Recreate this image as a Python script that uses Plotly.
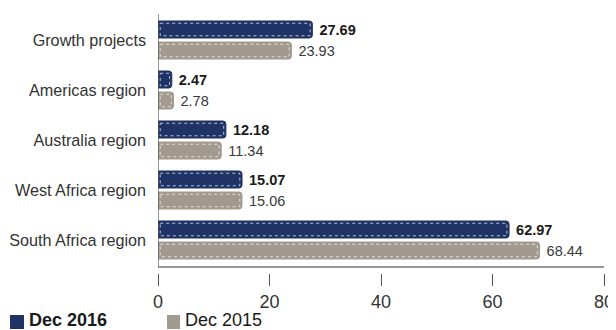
import plotly.graph_objects as go

# Data
categories = [
    "Growth projects",
    "Americas region",
    "Australia region",
    "West Africa region",
    "South Africa region",
]
dec_2016 = [27.69, 2.47, 12.18, 15.07, 62.97]
dec_2015 = [23.93, 2.78, 11.34, 15.06, 68.44]
series_names = ["Dec 2016", "Dec 2015"]
x_ticks = [0, 20, 40, 60, 80]

NAVY = "#1f3366"
TAUPE = "#a39a8f"
FONT = "Liberation Sans, Arial, sans-serif"

positions = list(range(len(categories)))
BAR_W = 0.34
GAP = 0.04


def stitch_path(values, offset):
    """White dotted inner outline for each bar (inset a couple of pixels)."""
    xs, ys = [], []
    x_in, y_in = 0.4, 0.045
    for pos, val in zip(positions, values):
        top = pos + offset + y_in
        bot = pos + offset + BAR_W - y_in
        right = val - x_in
        xs += [x_in, right, right, x_in, x_in, None]
        ys += [top, top, bot, bot, top, None]
    return xs, ys


fig = go.Figure()
series = [
    (series_names[0], dec_2016, NAVY, -GAP - BAR_W, "&nbsp;<b>%{x:.2f}</b>", "#1a1a1a"),
    (series_names[1], dec_2015, TAUPE, GAP, "&nbsp;%{x:.2f}", "#3a3a3a"),
]
for name, values, color, offset, tmpl, txt_color in series:
    fig.add_trace(
        go.Bar(
            x=values,
            y=positions,
            orientation="h",
            name=name,
            width=BAR_W,
            offset=offset,
            marker={"color": color, "line": {"color": color, "width": 1}, "cornerradius": 3},
            texttemplate=tmpl,
            textposition="outside",
            textfont={"size": 14.5, "color": txt_color, "family": FONT},
            cliponaxis=False,
            hoverinfo="skip",
            showlegend=False,
        )
    )
    sx, sy = stitch_path(values, offset)
    fig.add_trace(
        go.Scatter(
            x=sx,
            y=sy,
            mode="lines",
            line={"color": "rgba(255,255,255,0.85)", "width": 0.8, "dash": "dot"},
            showlegend=False,
            hoverinfo="skip",
        )
    )

# axis lines that stop short of the tick row
fig.add_shape(type="line", xref="x", yref="y", x0=0, x1=0, y0=-0.52, y1=4.54,
              line={"color": "#555555", "width": 1.2})
fig.add_shape(type="line", xref="x", yref="y", x0=0, x1=80, y0=4.54, y1=4.54,
              line={"color": "#333333", "width": 1.2})

# hand-placed legend below the chart (Plotly's own legend would push the margins)
legend_items = [
    (f"<b>{series_names[0]}</b>", NAVY, -0.3318, -0.3004, -0.2937),
    (series_names[1], TAUPE, 0.0202, 0.0493, 0.0561),
]
for label, color, sq0, sq1, tx in legend_items:
    fig.add_shape(type="rect", xref="paper", yref="paper",
                  x0=sq0, x1=sq1, y0=-0.1622, y1=-0.2162,
                  line={"width": 0}, fillcolor=color)
    fig.add_annotation(xref="paper", yref="paper", x=tx, y=-0.1815,
                       xanchor="left", yanchor="middle", showarrow=False,
                       text=label, font={"size": 18, "color": "#1a1a1a", "family": FONT})

# the page body adds an 8px margin, so the figure is drawn 8px smaller
fig.update_layout(
    width=608,
    height=322,
    margin={"l": 150, "r": 12, "t": 6, "b": 57},
    barmode="overlay",
    plot_bgcolor="white",
    paper_bgcolor="white",
    font={"family": FONT, "color": "#333333"},
    showlegend=False,
    xaxis={
        "range": [0, 80],
        "tickvals": x_ticks,
        "ticks": "outside",
        "ticklen": 12,
        "tickcolor": "#555555",
        "showline": False,
        "showgrid": False,
        "zeroline": False,
        "automargin": False,
        "tickfont": {"size": 18, "color": "#333333"},
    },
    yaxis={
        "range": [4.66, -0.52],
        "tickvals": positions,
        "ticktext": categories,
        "showgrid": False,
        "zeroline": False,
        "showline": False,
        "automargin": False,
        "ticks": "",
        "ticklabelstandoff": 11,
        "tickfont": {"size": 16.2, "color": "#333333"},
    },
)

fig.write_html("out.html")
